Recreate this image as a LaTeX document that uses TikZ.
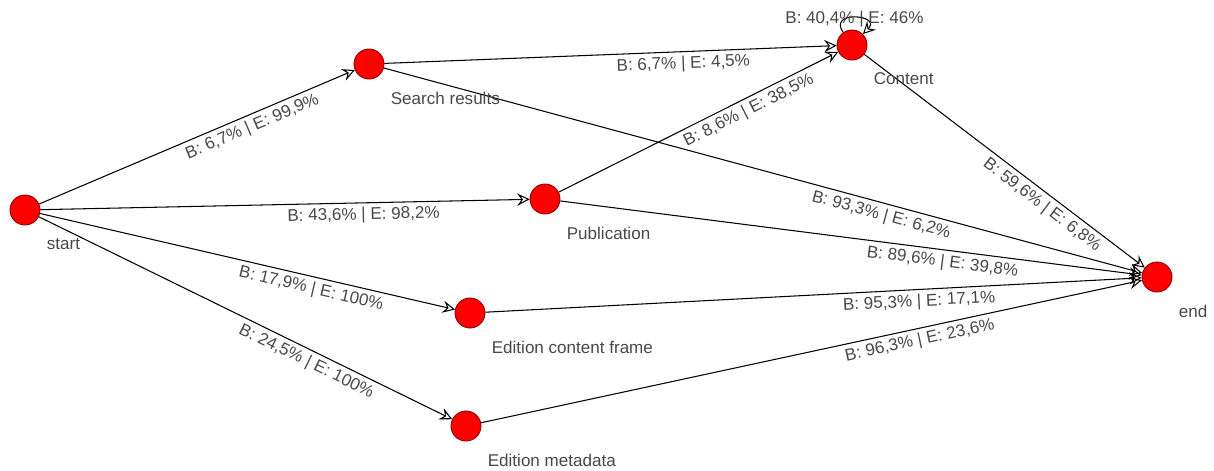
\documentclass[tikz,border=0pt]{standalone}
\usepackage{fontspec}
\setmainfont{Liberation Sans}
\usetikzlibrary{arrows.meta,positioning}
\pgfdeclarelayer{background}
\pgfsetlayers{background,main}
\definecolor{textgray}{RGB}{72,72,72}
\definecolor{rimred}{RGB}{140,0,0}
\newcommand{\labelfont}{\fontsize{9.7}{11.6}\selectfont}
\tikzset{
  state/.style={circle,draw=rimred,fill=red,line width=0.5pt,minimum size=0.6cm,inner sep=0},
  statelabel/.style={anchor=west,text=textgray,font=\labelfont,inner sep=0},
  edge/.style={-{Stealth[open,length=7pt,width=7pt,inset=2.5pt]},line width=0.6pt},
  edgelabel/.style={pos=0.66,below,sloped,text=textgray,font=\labelfont,inner sep=2.3pt}
}
\newcommand{\State}[3]% pos, name, text
{\node[state] (#2) at (#1) {};
  \node[statelabel] (#2-lbl) at ([xshift=0.43cm,yshift=-0.68cm]#2) {#3};
}
\newcommand{\Arrow}[3]% from, to, label
{ \begin{pgfonlayer}{background}
    \draw[edge] (#1) -- node[edgelabel] (#1-#2) {#3} (#2);
  \end{pgfonlayer}}

\begin{document}
\begin{tikzpicture}
      \useasboundingbox (0,0) rectangle (24.28,-9.4);
      \State{0.5, -4.2}{start}{start}
      \State{7.38, -1.28}{SR}{Search results}
      \State{10.9, -3.98}{P}{Publication}
      \State{17.04, -0.9}{C}{Content}
      \State{9.4, -6.26}{ECF}{Edition content frame}
      \State{9.32, -8.52}{EM}{Edition metadata}
      \State{23.14, -5.54}{end}{end}
      \Arrow{start}{SR}{B: 6,7\% | E: 99,9\%}
      \Arrow{start}{P}{B: 43,6\% | E: 98,2\%}
      \Arrow{start}{ECF}{B: 17,9\% | E: 100\%}
      \Arrow{start}{EM}{B: 24,5\% | E: 100\%}
      \Arrow{SR}{C}{B: 6,7\% | E: 4,5\%}
      \Arrow{SR}{end}{B: 93,3\% | E: 6,2\%}
      \Arrow{P}{C}{B: 8,6\% | E: 38,5\%}
      \Arrow{P}{end}{B: 89,6\% | E: 39,8\%}
      \Arrow{C}{end}{B: 59,6\% | E: 6,8\%}
      \Arrow{ECF}{end}{B: 95,3\% | E: 17,1\%}
      \Arrow{EM}{end}{B: 96,3\% | E: 23,6\%}
      % self loop on Content
      \begin{pgfonlayer}{background}
        \draw[edge] (C) to[loop,out=125,in=45,min distance=5.5mm]
          node[text=textgray,font=\labelfont,pos=0.5,yshift=-1pt] (C-C) {B: 40,4\% | E: 46\%} (C);
      \end{pgfonlayer}
    \end{tikzpicture}
\end{document}
